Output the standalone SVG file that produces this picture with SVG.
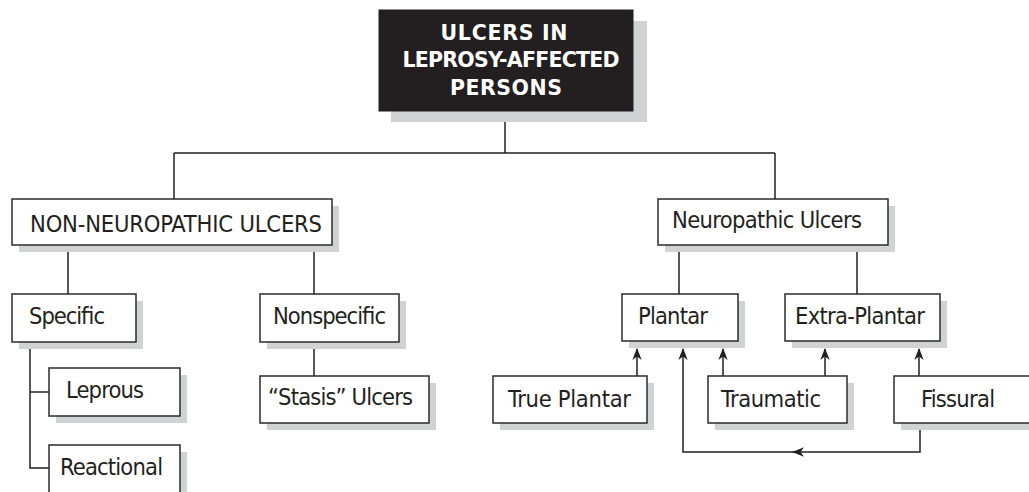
<svg xmlns="http://www.w3.org/2000/svg" width="1029" height="492" viewBox="0 0 1029 492">
<defs>
<style>
.shadow{fill:#d1d2d4;stroke:none}
.box{fill:#ffffff;stroke:#2b2b2b;stroke-width:1.5}
.lbl{font-family:"DejaVu Sans Condensed","DejaVu Sans",sans-serif;font-size:23.5px;fill:#231f20}
.ttl{font-family:"DejaVu Sans","Liberation Sans",sans-serif;font-weight:bold;font-size:20.5px;fill:#ffffff;text-anchor:middle}
.ln{fill:none;stroke:#231f20;stroke-width:1.5}
.arr{fill:none;stroke:#231f20;stroke-width:1.5;marker-end:url(#ah)}
</style>
<marker id="ah" viewBox="0 0 12 10" refX="11" refY="5" markerWidth="13" markerHeight="10" markerUnits="userSpaceOnUse" orient="auto">
<path d="M12,5 L0,0.3 L3.5,5 L0,9.7 Z" fill="#231f20"/>
</marker>
</defs>
<rect width="1029" height="492" fill="#ffffff"/>

<g id="connectors">
<path class="ln" d="M505,111 V153"/>
<path class="ln" d="M174,153 H775"/>
<path class="ln" d="M174,153 V199"/>
<path class="ln" d="M775,153 V199"/>
<path class="ln" d="M68,245 V294"/>
<path class="ln" d="M314,245 V294"/>
<path class="ln" d="M30,349 V468 H49"/>
<path class="ln" d="M30,392 H49"/>
<path class="ln" d="M314,349 V376"/>
<path class="ln" d="M679,245 V294"/>
<path class="ln" d="M857,245 V294"/>
<path class="arr" d="M637,376 V349"/>
<path class="arr" d="M723,376 V349"/>
<path class="arr" d="M825,376 V349"/>
<path class="arr" d="M919,376 V349"/>
<path class="arr" d="M920,430 V452 H793"/>
<path class="arr" d="M794,452 H683 V349"/>
</g>

<g id="title">
<rect class="shadow" x="391" y="21" width="256" height="101"/>
<rect x="379" y="10" width="254" height="101" fill="#231f20" stroke="#231f20"/>
<text class="ttl" x="504" y="40" textLength="127">ULCERS IN</text>
<text class="ttl" x="511" y="67" textLength="217">LEPROSY-AFFECTED</text>
<text class="ttl" x="506" y="95" textLength="112">PERSONS</text>
</g>

<g id="non-neuropathic">
<rect class="shadow" x="19" y="206" width="320" height="46"/>
<rect class="box" x="12" y="199" width="320" height="46"/>
<text class="lbl" x="30" y="232" textLength="292">NON-NEUROPATHIC ULCERS</text>
</g>

<g id="neuropathic">
<rect class="shadow" x="665" y="206" width="230" height="46"/>
<rect class="box" x="658" y="199" width="230" height="46"/>
<text class="lbl" x="672" y="228" textLength="190">Neuropathic Ulcers</text>
</g>

<g id="specific">
<rect class="shadow" x="19" y="301" width="124" height="48"/>
<rect class="box" x="12" y="294" width="124" height="48"/>
<text class="lbl" x="29" y="324" textLength="76">Specific</text>
</g>

<g id="nonspecific">
<rect class="shadow" x="267" y="301" width="139" height="48"/>
<rect class="box" x="260" y="294" width="139" height="48"/>
<text class="lbl" x="273" y="324" textLength="113">Nonspecific</text>
</g>

<g id="leprous">
<rect class="shadow" x="56" y="375" width="131" height="48"/>
<rect class="box" x="49" y="368" width="131" height="48"/>
<text class="lbl" x="66" y="398" textLength="78">Leprous</text>
</g>

<g id="reactional">
<rect class="shadow" x="56" y="452" width="131" height="48"/>
<rect class="box" x="49" y="445" width="131" height="50"/>
<text class="lbl" x="60" y="475" textLength="103">Reactional</text>
</g>

<g id="stasis">
<rect class="shadow" x="267" y="383" width="169" height="47"/>
<rect class="box" x="260" y="376" width="169" height="47"/>
<text class="lbl" x="268" y="405" textLength="145">“Stasis” Ulcers</text>
</g>

<g id="plantar">
<rect class="shadow" x="629" y="301" width="116" height="47"/>
<rect class="box" x="622" y="294" width="116" height="47"/>
<text class="lbl" x="638" y="324" textLength="70">Plantar</text>
</g>

<g id="extra-plantar">
<rect class="shadow" x="792" y="301" width="155" height="47"/>
<rect class="box" x="785" y="294" width="155" height="47"/>
<text class="lbl" x="795" y="324" textLength="130">Extra-Plantar</text>
</g>

<g id="true-plantar">
<rect class="shadow" x="500" y="383" width="154" height="47"/>
<rect class="box" x="493" y="376" width="154" height="47"/>
<text class="lbl" x="508" y="407" textLength="123">True Plantar</text>
</g>

<g id="traumatic">
<rect class="shadow" x="715" y="383" width="139" height="47"/>
<rect class="box" x="708" y="376" width="139" height="47"/>
<text class="lbl" x="721" y="407" textLength="100">Traumatic</text>
</g>

<g id="fissural">
<rect class="shadow" x="901" y="383" width="150" height="47"/>
<rect class="box" x="894" y="376" width="150" height="47"/>
<text class="lbl" x="921" y="407" textLength="74">Fissural</text>
</g>
</svg>
